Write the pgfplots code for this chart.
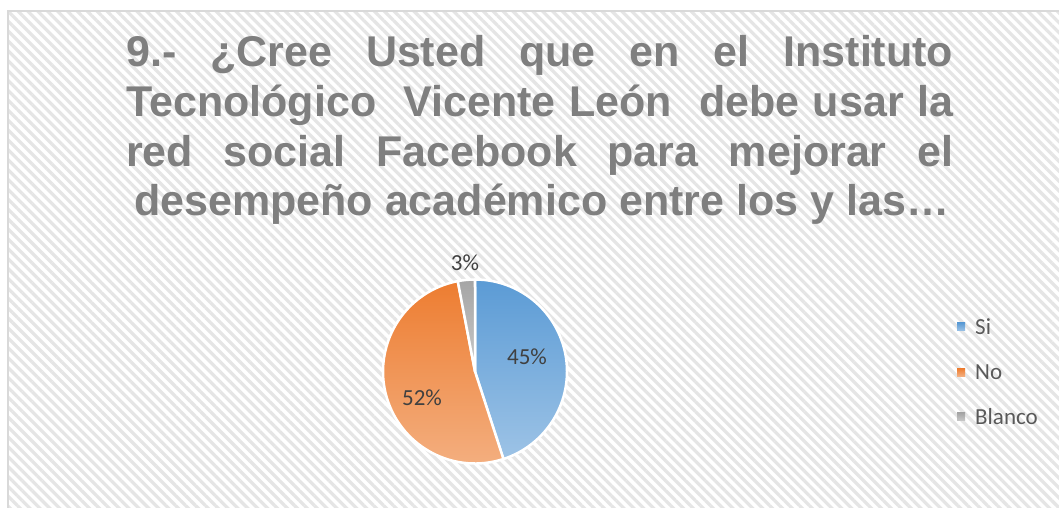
\documentclass[border=0pt]{standalone}
\usepackage{pgfplots}
\pgfplotsset{compat=1.18}
\usepackage{pgfplotstable}
\usepackage{fontspec}
\setmainfont{Liberation Sans}
\newfontfamily\calibri{Carlito}
\usetikzlibrary{patterns.meta}

\definecolor{titlegray}{HTML}{7F7F7F}
\definecolor{sitop}{HTML}{5B9BD5}
\definecolor{sibot}{HTML}{9DC3E6}
\definecolor{notop}{HTML}{ED7D31}
\definecolor{nobot}{HTML}{F4B183}
\definecolor{bltop}{HTML}{A5A5A5}
\definecolor{blbot}{HTML}{C9C9C9}
\definecolor{labtxt}{HTML}{404040}
\definecolor{legtxt}{HTML}{595959}

% answers to question 9 (percent)
\pgfplotstableread{
label value
Si 45
No 52
Blanco 3
}\piedata

\begin{document}
\begin{tikzpicture}
\pgfplotstablegetelem{0}{value}\of\piedata \let\vSi\pgfplotsretval
\pgfplotstablegetelem{1}{value}\of\piedata \let\vNo\pgfplotsretval
\pgfplotstablegetelem{2}{value}\of\piedata \let\vBl\pgfplotsretval
\pgfmathsetmacro\tot{\vSi+\vNo+\vBl}
\pgfmathsetmacro\aA{90}
\pgfmathsetmacro\aB{\aA-\vSi/\tot*360}
\pgfmathsetmacro\aC{\aB-\vNo/\tot*360}
\pgfmathsetmacro\aD{\aC-\vBl/\tot*360}
\def\cx{475}\def\cy{136.5}\def\rr{92pt}
\begin{axis}[
  width=1059pt, height=508pt, scale only axis,
  xmin=0, xmax=1059, ymin=0, ymax=508,
  hide axis, clip=false,
]
\coordinate (bbsw) at (rel axis cs:0,0);
\coordinate (bbne) at (rel axis cs:1,1);
% hatched chart area
\fill[white] (axis cs:8,0) rectangle (axis cs:1059,497);
\fill[pattern={Lines[angle=-45,distance=7pt,line width=3.2pt]}, pattern color=black!10]
  (axis cs:8,0) rectangle (axis cs:1059,497);
\draw[black!15, line width=1.5pt] (axis cs:8,0) -- (axis cs:8,497) -- (axis cs:1059,497);

% title
\begin{scope}[every node/.style={anchor=base west, inner sep=0pt, text=titlegray,
    font=\fontsize{43}{50}\selectfont\bfseries}]
\node at (axis cs:126,441) {\makebox[827pt][s]{9.- \ ¿Cree \ Usted \ que \ en \ el \ Instituto}};
\node at (axis cs:126,391) {\makebox[827pt][s]{Tecnológico \ Vicente León \ debe usar la}};
\node at (axis cs:126,341.5) {\makebox[827pt][s]{red \ social \ Facebook \ para \ mejorar \ el}};
\node at (axis cs:134,292) {desempeño académico entre los y las…};
\end{scope}

% pie slices
\path[top color=sitop, bottom color=sibot, draw=white, line width=2.5pt, line join=round]
  (axis cs:\cx,\cy) -- ++(\aA:\rr) arc[start angle=\aA, end angle=\aB, radius=\rr] -- cycle;
\path[top color=notop, bottom color=nobot, draw=white, line width=2.5pt, line join=round]
  (axis cs:\cx,\cy) -- ++(\aB:\rr) arc[start angle=\aB, end angle=\aC, radius=\rr] -- cycle;
\path[top color=bltop, bottom color=blbot, draw=white, line width=2.5pt, line join=round]
  (axis cs:\cx,\cy) -- ++(\aC:\rr) arc[start angle=\aC, end angle=\aD, radius=\rr] -- cycle;

% data labels
\begin{scope}[every node/.style={inner sep=0pt, text=labtxt, font=\calibri\fontsize{23}{27}\selectfont}]
\node at (axis cs:527,151) {\vSi\%};
\node at (axis cs:422,110) {\vNo\%};
\node at (axis cs:465,245) {\vBl\%};
\end{scope}

% legend
\begin{scope}[every node/.style={anchor=west, inner sep=0pt, text=legtxt, font=\calibri\fontsize{23}{27}\selectfont}]
\fill[top color=sitop, bottom color=sibot] (axis cs:957,177) rectangle (axis cs:965,185);
\node at (axis cs:975,181) {Si};
\fill[top color=notop, bottom color=nobot] (axis cs:957,131.5) rectangle (axis cs:965,139.5);
\node at (axis cs:975,135.5) {No};
\fill[top color=bltop, bottom color=blbot] (axis cs:957,87) rectangle (axis cs:965,95);
\node at (axis cs:975,91) {Blanco};
\end{scope}
\end{axis}
\pgfresetboundingbox
\useasboundingbox (bbsw) rectangle (bbne);
\end{tikzpicture}
\end{document}
